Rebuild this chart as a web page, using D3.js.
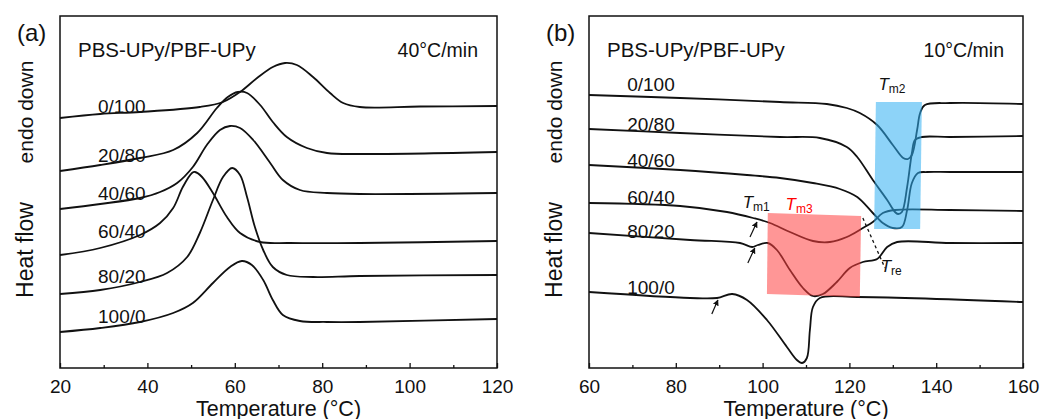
<!DOCTYPE html>
<html>
<head>
<meta charset="utf-8">
<script src="https://cdn.jsdelivr.net/npm/d3@7"></script>
<style>
  html, body { margin: 0; padding: 0; background: #fff; }
  svg { display: block; font-family: "Liberation Sans", Arial, sans-serif; }
</style>
</head>
<body>
<svg id="chart" width="1045" height="419"></svg>
<script>
// blend ratios PBS-UPy/PBF-UPy, top to bottom
const blends = ["0/100", "20/80", "40/60", "60/40", "80/20", "100/0"];

// panel (a) 40°C/min — [temperature °C, heat flow (a.u., shifted)]
const a_0_100 = [[20,25.0],[29.2,25.4],[38.3,25.6],[52.0,26.1],[57.3,26.6],[61.2,27.6],[65.1,29.0],[68.7,30.1],[71.5,30.5],[74.2,30.3],[77.9,29.1],[81.8,27.5],[84.8,26.5],[88.6,26.1],[102.4,26.15],[120,26.2]];
const a_20_80 = [[20,19.7],[29.2,20.3],[38.3,21.0],[45.9,21.8],[51.4,23.5],[55.9,26.0],[58.4,27.1],[60.7,27.6],[62.8,27.5],[65.8,26.3],[68.7,24.6],[71.9,23.1],[76.5,22.0],[81.1,21.5],[88.6,21.4],[120,21.6]];
const a_40_60 = [[20,15.9],[29.2,16.4],[38.3,17.0],[42.9,17.6],[46.8,18.5],[50.4,20.1],[53.6,22.3],[56.6,23.8],[58.9,24.2],[61.2,24.0],[64.2,22.8],[68.1,20.5],[71.0,18.8],[74.9,17.8],[81.1,17.5],[88.6,17.4],[120,17.5]];
const a_60_40 = [[20,11.3],[29.2,12.0],[38.3,13.3],[42.9,14.5],[45.9,16.0],[48.1,18.1],[50.2,19.5],[50.9,19.6],[52.5,19.1],[55.0,17.5],[58.2,15.1],[61.2,13.5],[65.8,12.6],[72.6,12.5],[88.6,12.5],[120,12.7]];
const a_80_20 = [[20,7.4],[29.2,7.8],[38.3,8.6],[44.5,9.5],[49.1,11.1],[52.0,13.5],[55.0,16.8],[57.3,19.1],[59.4,20.0],[61.2,19.3],[62.8,17.1],[64.6,14.1],[66.5,11.8],[68.7,10.1],[71.9,9.3],[77.9,9.1],[88.6,9.2],[120,9.3]];
const a_100_0 = [[20,3.6],[29.2,4.0],[38.3,4.6],[45.9,5.5],[50.4,6.5],[55.0,8.5],[58.9,10.1],[61.6,10.7],[63.9,10.3],[66.5,8.8],[68.7,6.8],[71.0,5.3],[74.9,4.7],[81.1,4.6],[88.6,4.6],[120,4.9]];

// panel (b) 10°C/min
const b_0_100 = [[60,27.3],[81.0,27.0],[104.0,26.6],[114.8,26.4],[119.4,26.0],[122.4,25.5],[126.4,24.3],[130.0,22.3],[132.4,21.0],[133.5,20.9],[134.4,21.3],[135.6,23.8],[136.3,25.5],[137.4,26.3],[143.2,26.5],[160,26.4]];
const b_20_80 = [[60,23.9],[81.0,23.5],[104.0,23.1],[113.2,23.0],[119.4,22.1],[121.8,21.1],[125.4,18.8],[128.7,16.8],[130.5,15.6],[131.2,15.4],[132.1,15.6],[133.3,18.1],[134.4,21.5],[135.1,22.8],[136.7,23.1],[143.2,23.1],[160,23.2]];
const b_40_60 = [[60,20.3],[81.0,19.8],[96.4,19.3],[104.0,19.0],[111.6,18.5],[117.8,17.9],[121.8,17.1],[125.4,15.5],[127.7,14.5],[130.0,14.0],[132.1,14.1],[133.3,15.8],[134.4,18.5],[135.8,19.5],[137.9,19.6],[143.2,19.6],[160,19.6]];
const b_60_40 = [[60,16.5],[81.0,16.2],[91.8,15.6],[97.8,15.0],[101.7,14.5],[106.3,13.6],[111.6,12.7],[115.5,12.6],[119.4,13.1],[123.1,14.0],[125.4,14.6],[127.7,15.5],[130.5,15.8],[143.2,15.8],[160,15.7]];
const b_80_20 = [[60,13.5],[83.3,12.8],[94.8,12.5],[97.6,12.1],[98.9,12.3],[101.2,12.5],[103.3,11.8],[106.3,9.8],[109.3,8.0],[111.6,7.2],[113.9,7.4],[117.1,8.6],[120.1,10.0],[123.1,10.6],[126.4,10.9],[128.7,12.1],[131.0,12.6],[143.2,12.5],[160,12.5]];
const b_100_0 = [[60,7.6],[83.3,7.0],[89.5,7.0],[93.0,7.4],[96.4,6.8],[101.0,4.8],[105.6,2.1],[107.9,0.8],[109.1,0.5],[110.2,1.0],[110.9,3.8],[111.6,6.1],[113.2,7.0],[121.8,7.1],[160,6.6]];

const ticksA = [20, 40, 60, 80, 100, 120];
const ticksB = [60, 80, 100, 120, 140, 160];

// annotations of panel (b), same units as the curves
const tm2Box = [[126.1,26.6],[136.7,26.6],[136.3,13.9],[125.7,13.9]];
const tm3Box = [[101.2,15.5],[122.7,15.2],[122.4,7.1],[101.0,7.4]];
const treLine = [[123.1,15.0],[128.2,10.0]];
const tm1Arrows = [
  [[97.1,13.1],[98.7,14.6]],
  [[96.6,10.5],[98.2,12.0]],
  [[88.3,5.4],[89.7,6.8]]
];

const FONT = '"Liberation Sans", Arial, sans-serif';
const svg = d3.select("#chart");

svg.append("defs").append("marker")
  .attr("id", "head")
  .attr("viewBox", "0 0 10 10")
  .attr("refX", 9).attr("refY", 5)
  .attr("markerWidth", 6).attr("markerHeight", 6)
  .attr("markerUnits", "userSpaceOnUse")
  .attr("orient", "auto")
  .append("path").attr("d", "M0,0 L10,5 L0,10 z").attr("fill", "#111");

function drawPanel(p) {
  const x = d3.scaleLinear().domain(p.domain).range([p.left, p.right]);
  const y = d3.scaleLinear().domain([0, 35.2]).range([p.bottom, p.top]);
  const g = svg.append("g");

  const line = d3.line()
    .x((d) => x(d[0]))
    .y((d) => y(d[1]))
    .curve(d3.curveCatmullRom.alpha(0.5));

  g.selectAll("path.curve")
    .data(p.series)
    .join("path")
    .attr("class", "curve")
    .attr("fill", "none")
    .attr("stroke", "#111")
    .attr("stroke-width", 1.8)
    .attr("d", (d) => line(d));

  if (p.annotate) p.annotate(g, x, y);

  // frame
  g.append("rect")
    .attr("x", p.left).attr("y", p.top)
    .attr("width", p.right - p.left).attr("height", p.bottom - p.top)
    .attr("fill", "none").attr("stroke", "#111").attr("stroke-width", 1.5);

  // major ticks (inward) with labels
  const major = g.append("g")
    .attr("transform", `translate(0, ${p.bottom})`)
    .call(d3.axisBottom(x).tickValues(p.ticks).tickSize(-5).tickPadding(12).tickFormat(d3.format("d")));
  major.select(".domain").remove();
  major.selectAll("line").attr("stroke", "#111").attr("stroke-width", 1.3);
  major.selectAll("text").attr("font-size", 19).attr("font-family", FONT).attr("fill", "#111");

  // minor ticks
  const minorVals = d3.range(p.domain[0] + 10, p.domain[1], 20);
  const minor = g.append("g")
    .attr("transform", `translate(0, ${p.bottom})`)
    .call(d3.axisBottom(x).tickValues(minorVals).tickSize(-3).tickFormat(""));
  minor.select(".domain").remove();
  minor.selectAll("line").attr("stroke", "#111").attr("stroke-width", 1.3);

  // axis titles
  g.append("text")
    .attr("x", (p.left + p.right) / 2).attr("y", 416)
    .attr("text-anchor", "middle").attr("font-size", 21.5).attr("fill", "#111")
    .text("Temperature (°C)");

  const yl = p.left - 27;
  g.append("text")
    .attr("transform", `translate(${yl}, 250) rotate(-90)`)
    .attr("text-anchor", "middle").attr("font-size", 23).attr("fill", "#111")
    .text("Heat flow");
  g.append("text")
    .attr("transform", `translate(${yl}, 112) rotate(-90)`)
    .attr("text-anchor", "middle").attr("font-size", 21).attr("fill", "#111")
    .text("endo down");

  // panel letter, composition title, rate
  g.append("text")
    .attr("x", p.left - 43).attr("y", 41)
    .attr("font-size", 24).attr("fill", "#111")
    .text(p.letter);
  g.append("text")
    .attr("x", p.left + 18).attr("y", 57)
    .attr("font-size", 20.5).attr("fill", "#111")
    .text("PBS-UPy/PBF-UPy");
  g.append("text")
    .attr("x", p.right - 19).attr("y", 57)
    .attr("text-anchor", "end").attr("font-size", 19.5).attr("fill", "#111")
    .text(p.rate);

  // blend labels
  g.selectAll("text.blend")
    .data(blends)
    .join("text")
    .attr("class", "blend")
    .attr("x", x(p.labelT))
    .attr("y", (d, i) => y(p.labelV[i]))
    .attr("font-size", 19).attr("fill", "#111")
    .text((d) => d);
}

function subLabel(g, px, py, main, sub, color) {
  const t = g.append("text").attr("x", px).attr("y", py).attr("fill", color);
  t.append("tspan").attr("font-style", "italic").attr("font-size", 17).text(main);
  t.append("tspan").attr("font-size", 12).attr("dy", 3).text(sub);
}

drawPanel({
  left: 60, right: 497, top: 16, bottom: 368,
  domain: [20, 120], ticks: ticksA,
  series: [a_0_100, a_20_80, a_40_60, a_60_40, a_80_20, a_100_0],
  letter: "(a)", rate: "40°C/min",
  labelT: 28.7, labelV: [25.5, 20.6, 16.8, 13.0, 8.5, 4.5]
});

drawPanel({
  left: 589, right: 1023, top: 16, bottom: 368,
  domain: [60, 160], ticks: ticksB,
  series: [b_0_100, b_20_80, b_40_60, b_60_40, b_80_20, b_100_0],
  letter: "(b)", rate: "10°C/min",
  labelT: 68.8, labelV: [27.7, 23.7, 20.1, 16.4, 13.0, 7.4],
  annotate: (g, x, y) => {
    const poly = (pts) => pts.map((d) => [x(d[0]), y(d[1])].join(",")).join(" ");
    g.append("polygon").attr("points", poly(tm2Box))
      .attr("fill", "rgb(48,175,242)").attr("fill-opacity", 0.55);
    g.append("polygon").attr("points", poly(tm3Box))
      .attr("fill", "rgb(255,64,64)").attr("fill-opacity", 0.55);
    g.append("line")
      .attr("x1", x(treLine[0][0])).attr("y1", y(treLine[0][1]))
      .attr("x2", x(treLine[1][0])).attr("y2", y(treLine[1][1]))
      .attr("stroke", "#111").attr("stroke-width", 1.3).attr("stroke-dasharray", "3,3");
    tm1Arrows.forEach((a) => {
      g.append("line")
        .attr("x1", x(a[0][0])).attr("y1", y(a[0][1]))
        .attr("x2", x(a[1][0])).attr("y2", y(a[1][1]))
        .attr("stroke", "#111").attr("stroke-width", 1.2)
        .attr("marker-end", "url(#head)");
    });
    subLabel(g, x(126.7), 90, "T", "m2", "#111");
    subLabel(g, x(95.4), 208, "T", "m1", "#111");
    subLabel(g, x(105.3), 210, "T", "m3", "#f00");
    subLabel(g, x(127.2), 272, "T", "re", "#111");
  }
});
</script>
</body>
</html>
